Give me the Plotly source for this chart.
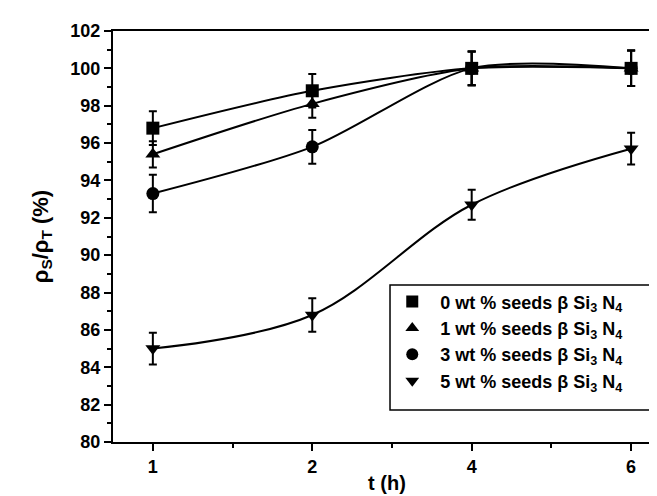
import plotly.graph_objects as go

# ---- data ----
time_labels = ["1", "2", "4", "6"]          # t (h), equally spaced categories
x_pos = [0, 1, 2, 3]                         # category index positions

seed0 = [96.8, 98.8, 100.0, 100.0]
err0 = [0.9, 0.9, 0.9, 0.95]
seed1 = [95.4, 98.1, 100.0, 100.0]
err1 = [0.7, 0.75, 0.9, 0.95]
seed3 = [93.3, 95.8, 100.0, 100.0]
err3 = [1.0, 0.9, 0.9, 0.95]
seed5 = [85.0, 86.8, 92.7, 95.7]
err5 = [0.85, 0.9, 0.8, 0.85]

names = [
    "0 wt % seeds β Si<sub>3</sub> N<sub>4</sub>",
    "1 wt % seeds β Si<sub>3</sub> N<sub>4</sub>",
    "3 wt % seeds β Si<sub>3</sub> N<sub>4</sub>",
    "5 wt % seeds β Si<sub>3</sub> N<sub>4</sub>",
]
symbols = ["square", "triangle-up", "circle", "triangle-down"]
smooth = [0.8, 0.8, 0.8, 1.0]
series = [seed0, seed1, seed3, seed5]
errors = [err0, err1, err3, err5]

FONT = "Liberation Sans"

fig = go.Figure()
for i, ys in enumerate(series):
    fig.add_trace(go.Scatter(
        x=x_pos, y=ys, mode="lines",
        line=dict(color="black", width=2, shape="spline", smoothing=smooth[i]),
        showlegend=False, hoverinfo="skip",
    ))
for i, (ys, es) in enumerate(zip(series, errors)):
    fig.add_trace(go.Scatter(
        x=x_pos, y=ys, mode="markers", name=names[i],
        legendgroup=f"g{i}",
        marker=dict(symbol=symbols[i], size=13, color="black",
                    line=dict(width=0)),
        error_y=dict(type="data", array=es, visible=True,
                     color="black", thickness=2, width=4),
    ))

axis_common = dict(
    showline=True, linecolor="black", linewidth=2, mirror=True,
    ticks="outside", ticklen=7, tickwidth=2, tickcolor="black",
    showgrid=False, zeroline=False,
    tickfont=dict(family=FONT, size=18, color="black", weight="bold"),
)

fig.update_xaxes(
    **axis_common,
    range=[-0.25, 3.1875],
    tickmode="array", tickvals=x_pos, ticktext=time_labels,
    minor=dict(ticks="outside", ticklen=4, tickwidth=2, tickcolor="black",
               tickmode="linear", tick0=0, dtick=0.5),
    title=dict(text="t (h)", standoff=0,
               font=dict(family=FONT, size=20, color="black", weight="bold")),
)
fig.update_yaxes(
    **axis_common,
    range=[80, 102], tickmode="linear", tick0=80, dtick=2,
    minor=dict(ticks="outside", ticklen=4, tickwidth=2, tickcolor="black",
               tickmode="linear", tick0=81, dtick=2),
    title=dict(text="ρ<sub>S</sub>/ρ<sub>T</sub> (%)", standoff=16,
               font=dict(family=FONT, size=22, color="black", weight="bold")),
)

# legend frame (style element)
fig.add_shape(type="rect", xref="paper", yref="paper",
              x0=0.5055, x1=0.991, y0=0.078, y1=0.382,
              line=dict(color="black", width=1.5), fillcolor="white",
              layer="below")

fig.update_layout(
    width=657, height=496,
    margin=dict(l=105, r=2, t=23, b=62),
    paper_bgcolor="white", plot_bgcolor="white",
    legend=dict(
        x=0.495, y=0.386, xanchor="left", yanchor="top",
        borderwidth=0, bgcolor="rgba(0,0,0,0)",
        font=dict(family=FONT, size=18, color="black", weight="bold"),
        tracegroupgap=0, itemsizing="constant", itemwidth=46,
    ),
)

fig.write_html("out.html")
